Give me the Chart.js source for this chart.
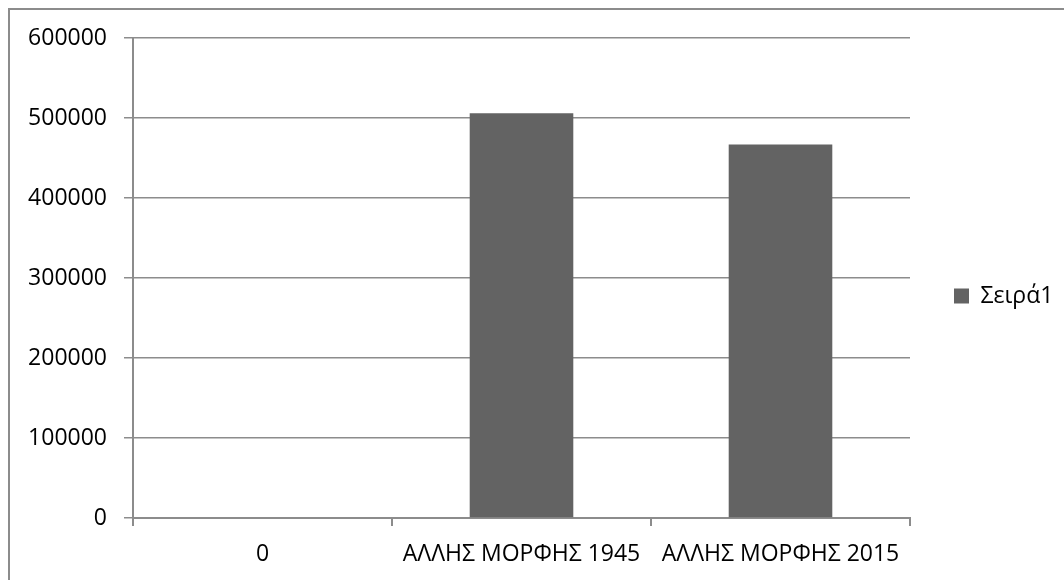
<!DOCTYPE html>
<html>
<head>
<meta charset="utf-8">
<script src="https://cdn.jsdelivr.net/npm/chart.js@4.4.0/dist/chart.umd.min.js"></script>
<style>
  html, body { margin: 0; padding: 0; background: #fff; }
  #wrap { width: 1064px; height: 580px; }
</style>
</head>
<body>
<div id="wrap"><canvas id="myChart" width="1064" height="580"></canvas></div>
<script>
var categories = ["0", "ΑΛΛΗΣ ΜΟΡΦΗΣ 1945", "ΑΛΛΗΣ ΜΟΡΦΗΣ 2015"];
var seriesName = "Σειρά1";
var seriesValues = [0, 506000, 467000];
var yTicks = [0, 100000, 200000, 300000, 400000, 500000, 600000];

var FONT = { family: "'Open Sans', sans-serif", size: 23 };
var LINE = '#8c8c8c';

// outer frame of the chart, like the excel chart box
var framePlugin = {
    id: 'frame',
    afterDraw: function(chart) {
        var c = chart.ctx;
        c.save();
        c.strokeStyle = LINE;
        c.lineWidth = 2;
        c.beginPath();
        c.moveTo(9, chart.height);
        c.lineTo(9, 9);
        c.lineTo(chart.width, 9);
        c.stroke();
        c.restore();
    }
};

// give the legend a fixed width so the plot ends where excel put it,
// and lift it a bit (excel centres it on the whole chart, not the plot)
var legendWidthPlugin = {
    id: 'legendWidth',
    beforeLayout: function(chart) {
        var lg = chart.legend;
        if (lg && !lg._fixedWidth) {
            var fit = lg.fit;
            lg.fit = function() {
                fit.call(this);
                this.width = 154;
            };
            lg._fixedWidth = true;
        }
    },
    afterLayout: function(chart) {
        var lg = chart.legend;
        if (lg) {
            lg.top -= 13;
            lg.bottom -= 13;
        }
    }
};

var ctx = document.getElementById('myChart').getContext('2d');
var chart = new Chart(ctx, {
    type: 'bar',
    data: {
        labels: categories,
        datasets: [{
            label: seriesName,
            data: seriesValues,
            backgroundColor: '#636363',
            borderWidth: 0,
            categoryPercentage: 0.4,
            barPercentage: 1.0
        }]
    },
    options: {
        responsive: false,
        animation: false,
        layout: { padding: { left: 20, top: 38, right: 0, bottom: 0 } },
        plugins: {
            legend: {
                position: 'right',
                labels: {
                    font: FONT,
                    color: '#000',
                    boxWidth: 15,
                    boxHeight: 15,
                    padding: 44
                }
            },
            tooltip: { enabled: false }
        },
        scales: {
            x: {
                offset: true,
                grid: {
                    offset: true,
                    drawOnChartArea: false,
                    drawTicks: true,
                    tickLength: 8,
                    color: LINE,
                    lineWidth: 2
                },
                border: { color: LINE, width: 2 },
                ticks: {
                    font: FONT,
                    color: '#000',
                    maxRotation: 0,
                    autoSkip: false,
                    padding: 15
                },
                afterFit: function(scale) { scale.height = 62; }
            },
            y: {
                min: 0,
                max: 600000,
                afterBuildTicks: function(scale) {
                    scale.ticks = yTicks.map(function(v) { return { value: v }; });
                },
                grid: {
                    color: LINE,
                    lineWidth: 1.5,
                    tickLength: 9
                },
                border: { color: LINE, width: 2 },
                ticks: {
                    font: FONT,
                    color: '#000',
                    padding: 17,
                    callback: function(v) { return String(v); }
                },
                afterFit: function(scale) { scale.width = 113; }
            }
        }
    },
    plugins: [framePlugin, legendWidthPlugin]
});
</script>
</body>
</html>
